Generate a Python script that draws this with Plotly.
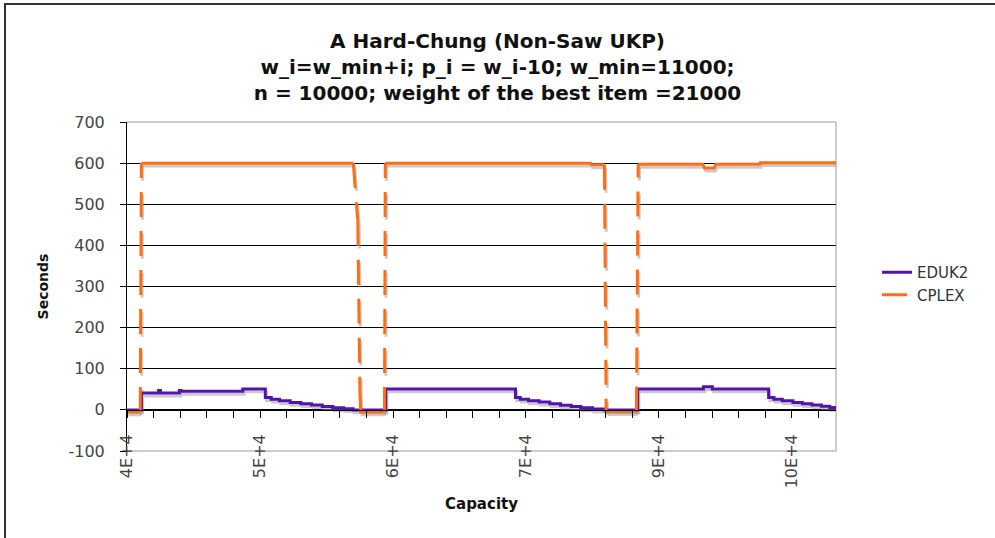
import plotly.graph_objects as go

# ---------------- data ----------------
capacity_eduk2 = [40735, 41950, 43400, 43550, 45150, 45300, 50500, 52400, 52900, 53600,
                  54500, 55400, 56300, 57200, 58100, 59000, 59800, 62550, 73500, 73900,
                  74600, 75500, 76400, 77300, 78200, 79000, 80000, 81000, 83800, 89350,
                  90100, 94850, 95300, 96000, 96900, 97700, 98500, 99300, 100000, 100532]
seconds_eduk2 = [0, 41, 47, 41, 47, 45, 51, 30, 26, 22,
                 18, 15, 12, 8, 5, 3, 0, 51, 30, 26,
                 22, 19, 15, 11, 8, 5, 2, 0, 51, 56,
                 51, 30, 26, 22, 18, 15, 12, 9, 6, 5]

capacity_cplex = [40735, 41850, 41950, 59820, 60200, 60380, 60450, 62450, 62520, 79850,
                  79900, 81000, 81150, 83700, 83850, 89300, 89450, 90250, 90400, 94100,
                  94150, 100532]
seconds_cplex = [-5, -5, 600, 600, 460, 40, -5, -5, 600, 600,
                 596, 596, -4, -4, 597, 597, 588, 588, 597, 597,
                 601, 601]

x_tick_values = [40735, 51952, 63169, 74386, 85603, 96820]
x_tick_labels = ["4E+4", "5E+4", "6E+4", "7E+4", "9E+4", "10E+4"]
y_tick_values = [-100, 0, 100, 200, 300, 400, 500, 600, 700]
y_tick_labels = ["-100", "0", "100", "200", "300", "400", "500", "600", "700"]

series_names = ["EDUK2", "CPLEX"]

# ---------------- style ----------------
EDU_COLOR = "#5312B2"
CPLEX_COLOR = "#FF6E14"
SHADOW = "rgba(150,150,150,0.5)"
FONT = "DejaVu Sans"
X_RANGE = [40735, 100532]
Y_RANGE = [-100, 700]
W, H = 995, 538
ML, MR, MT, MB = 127, 159, 122, 87
PW, PH = W - ML - MR, H - MT - MB


def split_jumps(xs, ys, jump=100):
    """Split a line into solid runs and steep 'jump' segments (dashed)."""
    sx, sy, dx, dy = [], [], [], []
    run_open = False
    for i in range(len(xs) - 1):
        if abs(ys[i + 1] - ys[i]) > jump:
            dx += [xs[i], xs[i + 1], None]
            dy += [ys[i], ys[i + 1], None]
            if run_open:
                sx.append(None)
                sy.append(None)
                run_open = False
        else:
            if not run_open:
                sx.append(xs[i])
                sy.append(ys[i])
                run_open = True
            sx.append(xs[i + 1])
            sy.append(ys[i + 1])
    return sx, sy, dx, dy


def shifted(vals, d):
    return [None if v is None else v + d for v in vals]


fig = go.Figure()

# shadows (drawn first, beneath the coloured lines)
fig.add_trace(go.Scatter(x=shifted(capacity_eduk2, 110), y=shifted(seconds_eduk2, -7),
                         mode="lines", line=dict(color=SHADOW, width=3, shape="hv"),
                         showlegend=False, hoverinfo="skip"))
csx, csy, cdx, cdy = split_jumps(capacity_cplex, seconds_cplex)
fig.add_trace(go.Scatter(x=shifted(csx, 110), y=shifted(csy, -7), mode="lines",
                         line=dict(color=SHADOW, width=3), showlegend=False, hoverinfo="skip"))
fig.add_trace(go.Scatter(x=shifted(cdx, 110), y=shifted(cdy, -7), mode="lines",
                         line=dict(color=SHADOW, width=3, dash="25px,14px"),
                         showlegend=False, hoverinfo="skip"))

# EDUK2
fig.add_trace(go.Scatter(x=capacity_eduk2, y=seconds_eduk2, mode="lines",
                         name=series_names[0],
                         line=dict(color=EDU_COLOR, width=3, shape="hv")))
# CPLEX: solid flats + dashed jumps (dash pattern restarts per segment)
fig.add_trace(go.Scatter(x=csx, y=csy, mode="lines", name=series_names[1],
                         legendgroup="cplex", showlegend=False,
                         line=dict(color=CPLEX_COLOR, width=3)))
fig.add_trace(go.Scatter(x=cdx, y=cdy, mode="lines", name=series_names[1],
                         legendgroup="cplex",
                         line=dict(color=CPLEX_COLOR, width=3, dash="25px,14px")))

zero_pos = (0 - Y_RANGE[0]) / (Y_RANGE[1] - Y_RANGE[0])
minor_step = (x_tick_values[1] - x_tick_values[0]) / 5

fig.update_layout(
    width=W, height=H, autosize=False,
    margin=dict(l=ML, r=MR, t=MT, b=MB),
    paper_bgcolor="white", plot_bgcolor="white",
    font=dict(family=FONT, color="#333333"),
    title=dict(
        text="A Hard-Chung (Non-Saw UKP)<br>w_i=w_min+i; p_i = w_i-10; w_min=11000;<br>"
             "n = 10000; weight of the best item =21000",
        x=0.5, xref="container", xanchor="center",
        y=1 - 48 / H, yref="container", yanchor="top",
        font=dict(family=FONT, size=20, color="#111111", weight="bold"),
    ),
    xaxis=dict(
        range=X_RANGE, anchor="free", position=zero_pos,
        tickmode="array", tickvals=x_tick_values, ticktext=x_tick_labels,
        tickangle=-90, ticks="outside", ticklen=7, tickcolor="black", tickwidth=1,
        ticklabelstandoff=10,
        minor=dict(tickmode="linear", tick0=x_tick_values[0], dtick=minor_step,
                   ticks="outside", ticklen=7, tickcolor="black", tickwidth=1,
                   showgrid=False),
        tickfont=dict(family=FONT, size=16, color="#444444"),
        showline=True, linecolor="black", linewidth=1,
        showgrid=False, zeroline=False, automargin=False,
        title=dict(text="Capacity", standoff=11,
                   font=dict(family=FONT, size=15, color="#111111", weight="bold")),
    ),
    yaxis=dict(
        range=Y_RANGE, tickmode="array", tickvals=y_tick_values, ticktext=y_tick_labels,
        ticks="outside", ticklen=6, tickcolor="black", tickwidth=1,
        ticklabelstandoff=12,
        tickfont=dict(family=FONT, size=16, color="#444444"),
        showline=True, linecolor="black", linewidth=1,
        showgrid=True, gridcolor="black", gridwidth=1,
        zeroline=False, automargin=False,
        title=dict(text="Seconds", standoff=16,
                   font=dict(family=FONT, size=14, color="#111111", weight="bold")),
    ),
    legend=dict(
        x=(877 - ML) / PW, xanchor="left", xref="paper",
        y=(451 - 256) / PH, yanchor="top", yref="paper",
        bgcolor="rgba(0,0,0,0)", borderwidth=0,
        font=dict(family=FONT, size=15, color="#333333"),
        tracegroupgap=0,
    ),
    shapes=[
        # plot-area border (top, right, bottom) in grey
        dict(type="line", xref="paper", yref="paper", x0=0, x1=1, y0=1, y1=1,
             line=dict(color="#9a9a9a", width=1), layer="between"),
        dict(type="line", xref="paper", yref="paper", x0=1, x1=1, y0=0, y1=1,
             line=dict(color="#9a9a9a", width=1), layer="between"),
        dict(type="line", xref="paper", yref="paper", x0=0, x1=1, y0=0, y1=0,
             line=dict(color="#9a9a9a", width=1), layer="between"),
        # outer frame of the chart
        dict(type="rect", xref="paper", yref="paper",
             x0=(5 - ML) / PW, x1=1.4, y0=-0.5, y1=(H - MB - 4) / PH,
             line=dict(color="#333333", width=2), layer="below"),
    ],
)

fig.write_html("out.html",
               config={"displayModeBar": False},
               post_script="document.body.style.margin='0';document.body.style.overflow='hidden';")
